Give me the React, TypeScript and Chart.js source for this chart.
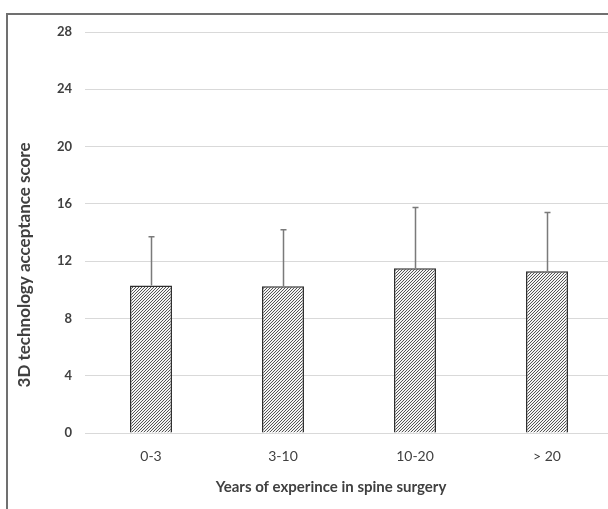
import React, { useEffect, useRef } from "react";
import { Chart, registerables } from "chart.js";

Chart.register(...registerables);

const categories = ["0-3", "3-10", "10-20", "> 20"];
const meanScores = [10.3, 10.25, 11.5, 11.3];
const sdScores = [3.4, 3.95, 4.25, 4.1];
const yTicks = [0, 4, 8, 12, 16, 20, 24, 28];
const yTitle = "3D technology acceptance score";
const xTitle = "Years of experince in spine surgery";

function makePattern(): CanvasPattern | string {
  const c = document.createElement("canvas");
  c.width = 3;
  c.height = 3;
  const g = c.getContext("2d");
  if (!g) return "#999";
  g.fillStyle = "#f4f4f4";
  g.fillRect(0, 0, 3, 3);
  g.fillStyle = "#555555";
  g.fillRect(2, 0, 1, 1);
  g.fillRect(1, 1, 1, 1);
  g.fillRect(0, 2, 1, 1);
  const p = g.createPattern(c, "repeat");
  return p || "#999";
}

const FONT = "Lato, 'Open Sans', sans-serif";

export default function App() {
  const ref = useRef<HTMLCanvasElement>(null);
  useEffect(() => {
    if (!ref.current) return;
    const pattern = makePattern();
    const errorBars = {
      id: "errorBars",
      afterDatasetsDraw(chart: any) {
        const ctx = chart.ctx;
        const meta = chart.getDatasetMeta(0);
        const y = chart.scales.y;
        ctx.save();
        ctx.strokeStyle = "#7a7a7a";
        ctx.lineWidth = 1.5;
        meta.data.forEach((bar: any, i: number) => {
          const top = y.getPixelForValue(meanScores[i] + sdScores[i]);
          const base = y.getPixelForValue(meanScores[i]);
          const x = Math.round(bar.x) + 0.5;
          ctx.beginPath();
          ctx.moveTo(x, base);
          ctx.lineTo(x, top);
          ctx.moveTo(x - 3, top);
          ctx.lineTo(x + 3, top);
          ctx.stroke();
        });
        ctx.restore();
      },
    };
    const frameAndTitles = {
      id: "frameAndTitles",
      afterDraw(chart: any) {
        const ctx = chart.ctx;
        ctx.save();
        ctx.strokeStyle = "#707070";
        ctx.lineWidth = 2;
        ctx.beginPath();
        ctx.moveTo(7, 520);
        ctx.lineTo(7, 14);
        ctx.lineTo(640, 14);
        ctx.stroke();
        ctx.fillStyle = "#404040";
        ctx.font = "bold 15px " + FONT;
        ctx.textAlign = "center";
        ctx.textBaseline = "middle";
        ctx.fillText(xTitle, 331, 487);
        ctx.font = "bold 17px " + FONT;
        ctx.translate(25, 265);
        ctx.rotate(-Math.PI / 2);
        ctx.fillText(yTitle, 0, 0);
        ctx.restore();
      },
    };
    const chart = new Chart(ref.current, {
      type: "bar",
      data: {
        labels: categories,
        datasets: [
          {
            data: meanScores,
            backgroundColor: pattern as any,
            borderColor: "#2e2e2e",
            borderWidth: 1.5,
            categoryPercentage: 1,
            barPercentage: 0.318,
          },
        ],
      },
      options: {
        animation: false,
        responsive: false,
        maintainAspectRatio: false,
        devicePixelRatio: 1,
        layout: { padding: { top: 32, right: 7, left: 0, bottom: 0 } },
        plugins: {
          legend: { display: false },
          tooltip: { enabled: false },
          title: { display: false },
        },
        scales: {
          x: {
            grid: { display: false, drawTicks: false },
            border: { display: false },
            ticks: {
              color: "#404040",
              font: { family: FONT, size: 14 },
              padding: 15,
            },
            afterFit(scale: any) {
              scale.height = 76;
            },
          },
          y: {
            min: 0,
            max: 28,
            afterBuildTicks(scale: any) {
              scale.ticks = yTicks.map((v) => ({ value: v }));
            },
            grid: { color: "#d9d9d9", lineWidth: 1, drawTicks: false },
            border: { display: false },
            ticks: {
              color: "#404040",
              font: { family: FONT, size: 13, weight: "bold" },
              padding: 13,
            },
            afterFit(scale: any) {
              scale.width = 85;
            },
          },
        },
      },
      plugins: [errorBars, frameAndTitles],
    });
    return () => chart.destroy();
  }, []);
  return (
    <div
      style={{
        position: "absolute",
        left: 0,
        top: 0,
        width: 608,
        height: 509,
        overflow: "hidden",
        background: "#fff",
      }}
    >
      <canvas ref={ref} width={620} height={509} style={{ display: "block" }} />
    </div>
  );
}
